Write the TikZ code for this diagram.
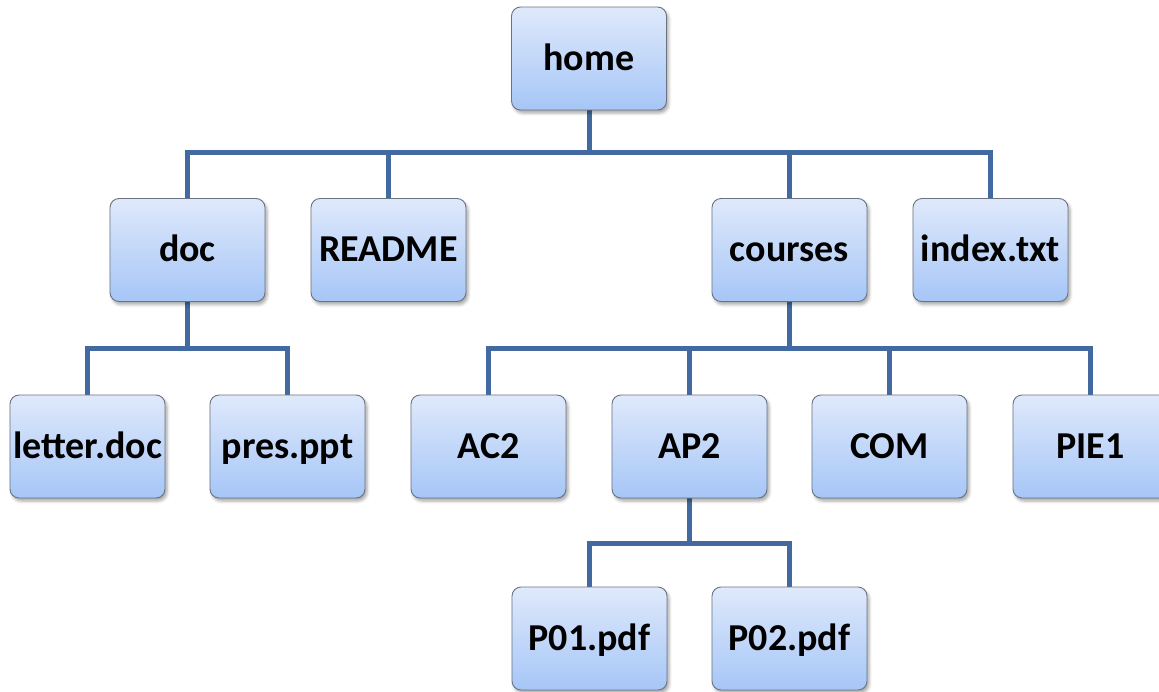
\documentclass[tikz,border=0pt]{standalone}
\usepackage{fontspec}
\setmainfont{Carlito}
\usetikzlibrary{shadows.blur,backgrounds}
\definecolor{wire}{RGB}{66,106,160}
\definecolor{boxtop}{RGB}{223,233,251}
\definecolor{boxbot}{RGB}{166,198,247}
\definecolor{boxedge}{RGB}{105,115,130}
\begin{document}
\begin{tikzpicture}[x=1pt,y=-1pt,
  fbox/.style={draw=boxedge, line width=0.9pt, rounded corners=9pt,
    top color=boxtop, bottom color=boxbot,
    minimum width=155pt, minimum height=103pt, inner sep=0pt,
    text height=28pt, text depth=5pt,
    font=\fontsize{38}{42}\selectfont\bfseries,
    blur shadow={shadow xshift=2pt, shadow yshift=-3pt, shadow blur radius=3pt, shadow opacity=35}},
  wirestyle/.style={draw=wire, line width=5pt}]
\useasboundingbox (0,0) rectangle (1159,691);

% directory tree nodes
\node[fbox] (home) at (589,58.5) {home};
\node[fbox] (doc) at (187.5,250) {doc};
\node[fbox] (readme) at (388.5,250) {README};
\node[fbox] (courses) at (789.5,250) {courses};
\node[fbox] (index) at (990.5,250) {index.txt};
\node[fbox] (letter) at (87.5,446.5) {letter.doc};
\node[fbox] (pres) at (287.5,446.5) {pres.ppt};
\node[fbox] (ac2) at (488.5,446.5) {AC2};
\node[fbox] (ap2) at (689.5,446.5) {AP2};
\node[fbox] (com) at (889.5,446.5) {COM};
\node[fbox] (pie1) at (1090.5,446.5) {PIE1};
\node[fbox] (p01) at (589.5,638.5) {P01.pdf};
\node[fbox] (p02) at (789.5,638.5) {P02.pdf};

% bus levels below each parent
\coordinate (bhome) at (589,152);
\coordinate (bdoc) at (187.5,348);
\coordinate (bcourses) at (789.5,348);
\coordinate (bap2) at (689.5,543);

% connectors, drawn underneath the boxes
\begin{scope}[on background layer]
  \draw[wirestyle] (home.south) -- (bhome);
  \foreach \c in {doc,readme,courses,index}
    \draw[wirestyle] (bhome) -| (\c.north);
  \draw[wirestyle] (doc.south) -- (bdoc);
  \foreach \c in {letter,pres}
    \draw[wirestyle] (bdoc) -| (\c.north);
  \draw[wirestyle] (courses.south) -- (bcourses);
  \foreach \c in {ac2,ap2,com,pie1}
    \draw[wirestyle] (bcourses) -| (\c.north);
  \draw[wirestyle] (ap2.south) -- (bap2);
  \foreach \c in {p01,p02}
    \draw[wirestyle] (bap2) -| (\c.north);
\end{scope}
\end{tikzpicture}
\end{document}
